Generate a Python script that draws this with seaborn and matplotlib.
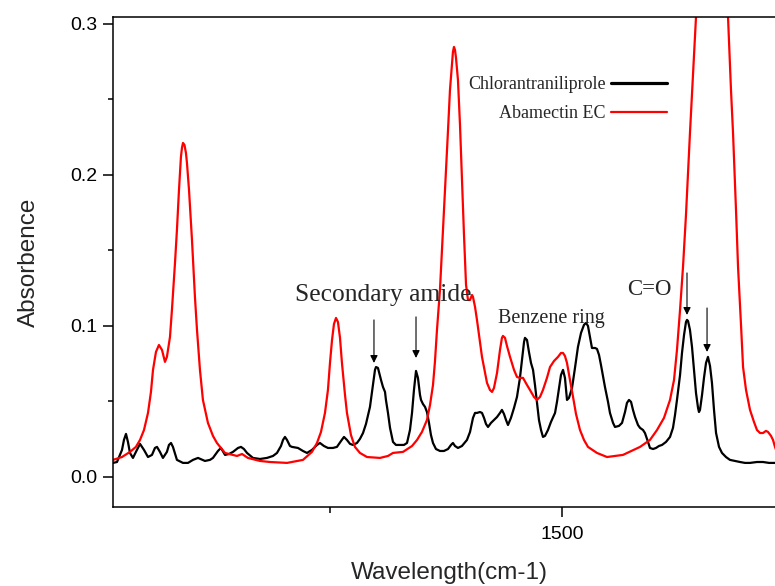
import numpy as np
import pandas as pd
import matplotlib
matplotlib.use("Agg")
import matplotlib.pyplot as plt
import seaborn as sns

# ---------------- data ----------------
black_wn = [1016.2, 1020.5, 1023.7, 1025.9, 1028.0, 1030.2, 1032.3, 1034.5, 1037.7, 1040.9, 1045.3, 1049.6,
            1053.9, 1058.2, 1061.4, 1063.6, 1066.8, 1070.0, 1074.3, 1076.5, 1078.7, 1080.8, 1085.1, 1091.6,
            1097.0, 1102.4, 1107.8, 1115.3, 1120.7, 1123.9, 1129.3, 1132.5, 1136.9, 1141.2, 1145.5, 1150.9,
            1154.1, 1157.3, 1160.6, 1167.0, 1174.6, 1182.1, 1188.6, 1192.9, 1197.2, 1199.4, 1201.5, 1203.7,
            1206.9, 1209.1, 1215.5, 1220.9, 1225.2, 1230.6, 1236.0, 1239.2, 1243.5, 1247.8, 1253.2, 1257.5,
            1261.9, 1265.1, 1268.3, 1271.6, 1274.8, 1279.1, 1282.3, 1285.6, 1288.8, 1293.1, 1296.3, 1298.5,
            1299.6, 1301.7, 1305.0, 1307.1, 1309.3, 1310.3, 1312.5, 1314.7, 1317.9, 1321.1, 1325.4, 1329.7,
            1333.0, 1336.2, 1338.4, 1340.5, 1342.7, 1344.8, 1347.0, 1348.1, 1350.2, 1352.4, 1354.5, 1356.7,
            1358.8, 1361.0, 1364.2, 1368.5, 1372.8, 1377.2, 1380.4, 1382.5, 1384.7, 1387.9, 1392.2, 1397.6,
            1400.9, 1404.1, 1406.3, 1408.4, 1411.6, 1413.8, 1416.0, 1418.1, 1420.3, 1423.5, 1426.7, 1430.0,
            1433.2, 1435.3, 1437.5, 1439.7, 1441.8, 1445.0, 1448.3, 1451.5, 1454.7, 1456.9, 1459.1, 1460.1,
            1462.3, 1464.4, 1466.6, 1468.8, 1470.9, 1473.1, 1475.2, 1477.4, 1479.5, 1481.7, 1484.9, 1488.1,
            1492.5, 1494.6, 1496.8, 1498.9, 1501.1, 1503.2, 1505.4, 1507.5, 1510.8, 1514.0, 1517.2, 1520.5,
            1523.7, 1525.9, 1528.0, 1530.2, 1532.3, 1535.6, 1537.7, 1539.9, 1542.0, 1544.2, 1546.3, 1549.6,
            1551.7, 1555.0, 1557.1, 1561.4, 1564.7, 1567.9, 1570.0, 1572.2, 1574.4, 1576.5, 1578.7, 1581.9,
            1584.1, 1587.3, 1589.4, 1592.7, 1594.8, 1598.1, 1601.3, 1604.5, 1607.8, 1612.1, 1616.4, 1619.6,
            1621.8, 1623.9, 1627.2, 1629.3, 1631.5, 1633.6, 1634.7, 1635.8, 1637.9, 1640.1, 1642.2, 1644.4,
            1646.6, 1647.6, 1648.7, 1650.9, 1653.0, 1655.2, 1657.3, 1659.5, 1661.6, 1663.8, 1666.0, 1669.2,
            1672.4, 1676.7, 1681.0, 1686.4, 1691.8, 1697.2, 1702.6, 1710.1, 1716.6, 1723.1, 1729.5, 1741.0]
black_abs = [0.0093, 0.0099, 0.0146, 0.0179, 0.0245, 0.0285, 0.0232, 0.0159, 0.0126, 0.0166, 0.0219, 0.0179,
             0.0132, 0.0146, 0.0192, 0.0199, 0.0166, 0.0126, 0.0166, 0.0212, 0.0225, 0.0199, 0.0113, 0.0093,
             0.0093, 0.0113, 0.0126, 0.0106, 0.0113, 0.0126, 0.0172, 0.0192, 0.0146, 0.0152, 0.0166, 0.0192,
             0.0199, 0.0185, 0.0159, 0.0126, 0.0119, 0.0126, 0.0139, 0.0159, 0.0205, 0.0245, 0.0265, 0.0245,
             0.0205, 0.0199, 0.0192, 0.0172, 0.0159, 0.0179, 0.0212, 0.0225, 0.0205, 0.0192, 0.0192, 0.0199,
             0.0238, 0.0265, 0.0245, 0.0219, 0.0212, 0.0225, 0.0252, 0.0291, 0.0351, 0.0464, 0.0609, 0.0709,
             0.0728, 0.0722, 0.0642, 0.0596, 0.0563, 0.0510, 0.0424, 0.0325, 0.0232, 0.0212, 0.0212, 0.0212,
             0.0225, 0.0311, 0.0424, 0.0576, 0.0702, 0.0656, 0.0543, 0.0510, 0.0483, 0.0464, 0.0430, 0.0358,
             0.0278, 0.0225, 0.0185, 0.0172, 0.0172, 0.0185, 0.0212, 0.0225, 0.0205, 0.0192, 0.0205, 0.0245,
             0.0298, 0.0391, 0.0424, 0.0424, 0.0430, 0.0424, 0.0391, 0.0351, 0.0331, 0.0358, 0.0377, 0.0397,
             0.0424, 0.0444, 0.0417, 0.0377, 0.0344, 0.0391, 0.0457, 0.0530, 0.0656, 0.0775, 0.0894, 0.0921,
             0.0907, 0.0828, 0.0755, 0.0709, 0.0609, 0.0490, 0.0377, 0.0311, 0.0265, 0.0272, 0.0311, 0.0364,
             0.0424, 0.0497, 0.0589, 0.0675, 0.0709, 0.0656, 0.0510, 0.0523, 0.0589, 0.0722, 0.0861, 0.0954,
             0.1007, 0.1020, 0.1000, 0.0927, 0.0854, 0.0854, 0.0848, 0.0808, 0.0742, 0.0669, 0.0596, 0.0497,
             0.0424, 0.0358, 0.0331, 0.0338, 0.0358, 0.0430, 0.0490, 0.0510, 0.0497, 0.0444, 0.0397, 0.0344,
             0.0325, 0.0311, 0.0291, 0.0232, 0.0192, 0.0185, 0.0192, 0.0205, 0.0212, 0.0232, 0.0265, 0.0325,
             0.0411, 0.0510, 0.0675, 0.0821, 0.0940, 0.1026, 0.1040, 0.1033, 0.0974, 0.0861, 0.0709, 0.0556,
             0.0457, 0.0430, 0.0444, 0.0543, 0.0656, 0.0755, 0.0795, 0.0735, 0.0623, 0.0444, 0.0291, 0.0199,
             0.0159, 0.0132, 0.0113, 0.0106, 0.0099, 0.0093, 0.0093, 0.0099, 0.0099, 0.0093, 0.0093, 0.0093]

red_wn = [1016.2, 1025.9, 1034.5, 1040.9, 1045.3, 1049.6, 1053.9, 1057.1, 1059.3, 1062.5, 1065.7, 1069.0,
          1072.2, 1074.3, 1077.6, 1079.7, 1083.0, 1085.1, 1087.3, 1089.4, 1090.5, 1091.6, 1093.2, 1094.8,
          1095.9, 1098.1, 1101.3, 1104.5, 1106.7, 1109.9, 1113.1, 1118.5, 1123.9, 1128.2, 1136.9, 1149.8,
          1155.2, 1161.6, 1174.6, 1185.3, 1203.7, 1220.9, 1230.6, 1236.0, 1240.3, 1244.6, 1247.8, 1250.0,
          1252.2, 1254.3, 1256.5, 1258.6, 1260.8, 1262.9, 1266.2, 1268.3, 1272.6, 1276.9, 1282.3, 1289.9,
          1303.9, 1312.5, 1317.9, 1328.7, 1338.4, 1343.8, 1349.1, 1354.5, 1357.8, 1361.0, 1363.1, 1365.3,
          1368.5, 1371.8, 1375.0, 1377.2, 1379.3, 1381.5, 1382.5, 1383.6, 1384.7, 1385.8, 1387.9, 1390.1,
          1392.2, 1394.4, 1396.6, 1398.7, 1400.9, 1403.0, 1404.1, 1406.3, 1408.4, 1411.6, 1413.8, 1419.2,
          1422.4, 1424.6, 1426.7, 1430.0, 1433.2, 1435.3, 1436.4, 1438.6, 1440.7, 1444.0, 1448.3, 1451.5,
          1454.7, 1458.0, 1462.3, 1465.5, 1469.8, 1473.1, 1476.3, 1479.5, 1483.8, 1487.1, 1491.4, 1495.7,
          1498.9, 1501.1, 1503.2, 1505.4, 1508.6, 1511.9, 1515.1, 1519.4, 1523.7, 1528.0, 1537.7, 1548.5,
          1565.7, 1584.1, 1594.8, 1602.4, 1609.9, 1616.4, 1620.7, 1623.9, 1627.2, 1630.4, 1633.6, 1637.9,
          1641.2, 1644.4, 1648.7, 1655.2, 1661.6, 1668.1, 1674.6, 1678.9, 1682.1, 1684.3, 1687.5, 1689.7,
          1692.9, 1695.1, 1698.3, 1702.6, 1706.9, 1710.1, 1713.4, 1716.6, 1719.8, 1722.0, 1725.2, 1727.4,
          1729.5, 1732.8, 1741.0]
red_abs = [0.0113, 0.0132, 0.0166, 0.0199, 0.0245, 0.0311, 0.0424, 0.0563, 0.0709, 0.0828, 0.0874, 0.0841,
           0.0762, 0.0795, 0.0927, 0.1106, 0.1417, 0.1636, 0.1901, 0.2119, 0.2179, 0.2212, 0.2199, 0.2146,
           0.2079, 0.1901, 0.1570, 0.1192, 0.0974, 0.0709, 0.0510, 0.0358, 0.0272, 0.0225, 0.0159, 0.0139,
           0.0152, 0.0126, 0.0106, 0.0099, 0.0093, 0.0113, 0.0166, 0.0225, 0.0298, 0.0424, 0.0576, 0.0755,
           0.0907, 0.1013, 0.1053, 0.1026, 0.0921, 0.0755, 0.0543, 0.0424, 0.0278, 0.0199, 0.0159, 0.0132,
           0.0126, 0.0139, 0.0159, 0.0166, 0.0205, 0.0245, 0.0298, 0.0377, 0.0477, 0.0609, 0.0762, 0.0974,
           0.1238, 0.1636, 0.2033, 0.2298, 0.2563, 0.2742, 0.2815, 0.2848, 0.2828, 0.2775, 0.2629, 0.2331,
           0.1967, 0.1603, 0.1272, 0.1172, 0.1172, 0.1205, 0.1192, 0.1126, 0.1040, 0.0894, 0.0795, 0.0623,
           0.0576, 0.0563, 0.0589, 0.0689, 0.0841, 0.0921, 0.0934, 0.0921, 0.0868, 0.0795, 0.0709, 0.0662,
           0.0656, 0.0656, 0.0609, 0.0576, 0.0530, 0.0510, 0.0530, 0.0576, 0.0656, 0.0728, 0.0768, 0.0795,
           0.0821, 0.0821, 0.0801, 0.0755, 0.0642, 0.0530, 0.0417, 0.0311, 0.0245, 0.0199, 0.0159, 0.0132,
           0.0146, 0.0199, 0.0245, 0.0311, 0.0391, 0.0510, 0.0642, 0.0841, 0.1106, 0.1391, 0.1735, 0.2278,
           0.2662, 0.3046, 0.3600, 0.4500, 0.4900, 0.4500, 0.3600, 0.3046, 0.2563, 0.2278, 0.1768, 0.1391,
           0.1007, 0.0728, 0.0576, 0.0444, 0.0364, 0.0311, 0.0291, 0.0291, 0.0305, 0.0298, 0.0272, 0.0245,
           0.0199, 0.0146, 0.0110]

series_names = ["Chlorantraniliprole", "Abamectin EC"]
series_colors = ["black", "#ff0000"]

# annotations: text, left x, baseline y, fontsize
note_texts = ["Secondary amide", "Benzene ring", "C=O"]
note_x = [1212.3, 1431.0, 1570.0]
note_y = [0.1166, 0.1020, 0.1205]
note_size = [18.4, 14.5, 16.5]

# arrows: x position, tail y, tip y
arrow_x = [1297.4, 1342.7, 1634.7, 1656.3]
arrow_top = [0.1040, 0.1060, 0.1351, 0.1119]
arrow_tip = [0.0755, 0.0788, 0.1073, 0.0828]

# ---------------- figure ----------------
sns.set_style("ticks")
plt.rcParams["font.family"] = ["Liberation Sans", "DejaVu Sans"]

df = pd.concat([
    pd.DataFrame({"wn": black_wn, "abs": black_abs, "sample": series_names[0]}),
    pd.DataFrame({"wn": red_wn, "abs": red_abs, "sample": series_names[1]}),
], ignore_index=True)

W, H = 775, 586
fig = plt.figure(figsize=(W / 100, H / 100), dpi=100)
ax = fig.add_axes([113 / W, (H - 507) / H, (785 - 113) / W, (507 - 17) / H])

sns.lineplot(data=df, x="wn", y="abs", hue="sample", hue_order=series_names,
             palette=dict(zip(series_names, series_colors)), sort=False,
             estimator=None, linewidth=1.6, ax=ax)

ax.set_xticks([1000, 1500, 2000])
ax.set_xticklabels(["1000", "1500", "2000"])
ax.set_xticks([1250, 1750], minor=True)
ax.set_yticks([0.0, 0.1, 0.2, 0.3])
ax.set_yticklabels(["0.0", "0.1", "0.2", "0.3"])
ax.set_yticks([0.05, 0.15, 0.25], minor=True)
ax.set_xlim(1016.2, 1740.3)
ax.set_ylim(-0.0199, 0.3046)

ax.tick_params(axis="both", which="major", direction="out", length=7.5, width=1.1,
               labelsize=14, pad=4, color="black", labelcolor="black")
ax.tick_params(axis="both", which="minor", direction="out", length=4.2, width=1.1,
               color="black")
ax.tick_params(axis="x", which="major", pad=6.5)
ax.tick_params(axis="y", which="major", length=7.2)
ax.tick_params(axis="y", which="minor", length=3.8)

for side in ["left", "bottom", "top", "right"]:
    ax.spines[side].set_visible(True)
    ax.spines[side].set_linewidth(1.1)
    ax.spines[side].set_color("black")

ax.set_xlabel("Wavelength(cm-1)", fontsize=17.5, labelpad=13)
ax.set_ylabel("Absorbence", fontsize=17.5, labelpad=22)

serif = ["Liberation Serif", "DejaVu Serif"]
for t, x, y, s in zip(note_texts, note_x, note_y, note_size):
    ax.text(x, y, t, fontsize=s, family=serif, ha="left", va="baseline")

for x, y0, y1 in zip(arrow_x, arrow_top, arrow_tip):
    ax.annotate("", xy=(x, y1), xytext=(x, y0),
                arrowprops=dict(arrowstyle="-|>", color="black", lw=0.8,
                                mutation_scale=11, shrinkA=0, shrinkB=0))

sns.move_legend(ax, loc="upper right", bbox_to_anchor=(667 / W, 1 - 76 / H),
                bbox_transform=fig.transFigure, title=None, frameon=False,
                markerfirst=False, handlelength=3.1, handletextpad=0.3,
                labelspacing=0.68, borderpad=0, borderaxespad=0,
                prop={"family": serif, "size": 13})
leg = ax.get_legend()
lw_handles = [2.3, 1.6]
for h, lw in zip(leg.get_lines(), lw_handles):
    h.set_linewidth(lw)

fig.savefig("out.png", dpi=100)
